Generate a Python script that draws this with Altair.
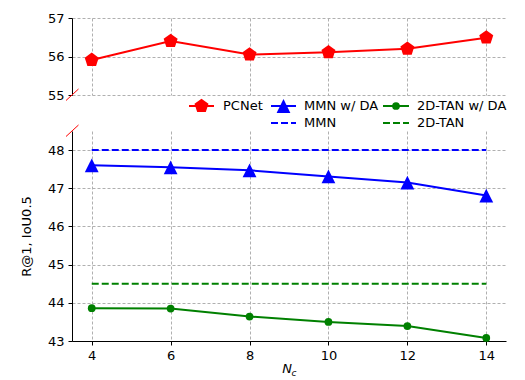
import altair as alt
import pandas as pd

# ---- data ----
nc = [4, 6, 8, 10, 12, 14]
pcnet = [55.91, 56.40, 56.05, 56.11, 56.20, 56.49]
mmn_da = [47.60, 47.55, 47.47, 47.31, 47.15, 46.81]
tan_da = [43.86, 43.85, 43.64, 43.50, 43.39, 43.08]
mmn_base = 48.0
tan_base = 44.5
top_range = [55, 57]
bottom_ticks = [43, 44, 45, 46, 47, 48]
x_ticks = [4, 6, 8, 10, 12, 14]
legend_labels = ["PCNet", "MMN w/ DA", "MMN", "2D-TAN w/ DA", "2D-TAN"]
y_title = "R@1, IoU0.5"

# ---- styling ----
W = 434
H_TOP = 77
H_BOT = 210
FONT = "DejaVu Sans"
RED, BLUE, GREEN = "#ff0000", "#0000ff", "#008000"
PENTAGON = "M0,-1L0.951,-0.309L0.588,0.809L-0.588,0.809L-0.951,-0.309Z"
TRIANGLE = "M0,-1L1,1L-1,1Z"
DASH = [7, 3]

xscale = alt.Scale(domain=[3.5, 14.5], nice=False, zero=False)
grid = dict(grid=True, gridColor="#b0b0b0", gridDash=[3, 2], gridWidth=1)
ax_common = dict(domainColor="black", tickColor="black", tickSize=4,
                 labelFontSize=13, labelFont=FONT, labelColor="black",
                 labelPadding=4, domainWidth=1, tickWidth=1,
                 labelOverlap=False, labelFlush=False)

# ---- top panel ----
df_top = pd.DataFrame({"nc": nc, "v": pcnet})
tx = alt.X("nc:Q", scale=xscale,
           axis=alt.Axis(values=x_ticks, tickCount=20, labels=False, ticks=False,
                         domain=False, title=None, **grid))
ty = alt.Y("v:Q", scale=alt.Scale(domain=top_range, nice=False, zero=False),
           axis=alt.Axis(tickCount=2, title=None, format="d",
                         **grid, **ax_common))
top_line = alt.Chart(df_top).mark_line(color=RED, strokeWidth=2).encode(x=tx, y=ty)
top_pts = alt.Chart(df_top).mark_point(shape=PENTAGON, filled=True, size=216,
                                       color=RED, opacity=1).encode(x=tx, y=ty)
brk1 = alt.Chart(pd.DataFrame({"a": [0]})).mark_rule(color=RED, strokeWidth=1).encode(
    x=alt.value(-6), x2=alt.value(6.5), y=alt.value(H_TOP + 5.5), y2=alt.value(H_TOP - 6))
top = alt.layer(top_line, top_pts, brk1).properties(width=W, height=H_TOP)

# ---- bottom panel ----
df_mmn = pd.DataFrame({"nc": nc, "v": mmn_da})
df_tan = pd.DataFrame({"nc": nc, "v": tan_da})
df_ref = pd.DataFrame({"x0": [nc[0]], "x1": [nc[-1]]})

bx = alt.X("nc:Q", scale=xscale,
           axis=alt.Axis(values=x_ticks, tickCount=20, title=None, format="d",
                         **grid, **ax_common))
by = alt.Y("v:Q", scale=alt.Scale(domain=[43, 48.5], nice=False, zero=False),
           axis=alt.Axis(values=bottom_ticks, tickCount=20, title=y_title, format="d",
                         titleFont=FONT, titleFontSize=13, titleFontWeight="normal",
                         titleColor="black", titlePadding=14, **grid, **ax_common))

mmn_ref = alt.Chart(df_ref).mark_rule(color=BLUE, strokeWidth=2, strokeDash=DASH).encode(
    x=alt.X("x0:Q", scale=xscale), x2="x1:Q", y=alt.datum(mmn_base))
tan_ref = alt.Chart(df_ref).mark_rule(color=GREEN, strokeWidth=2, strokeDash=DASH).encode(
    x=alt.X("x0:Q", scale=xscale), x2="x1:Q", y=alt.datum(tan_base))
mmn_line = alt.Chart(df_mmn).mark_line(color=BLUE, strokeWidth=2).encode(x=bx, y=by)
mmn_pts = alt.Chart(df_mmn).mark_point(shape=TRIANGLE, filled=True, size=190,
                                       color=BLUE, opacity=1).encode(x=bx, y=by)
tan_line = alt.Chart(df_tan).mark_line(color=GREEN, strokeWidth=2).encode(x=bx, y=by)
tan_pts = alt.Chart(df_tan).mark_point(shape="circle", filled=True, size=60,
                                       color=GREEN, opacity=1).encode(x=bx, y=by)

brk2 = alt.Chart(pd.DataFrame({"a": [0]})).mark_rule(color=RED, strokeWidth=1).encode(
    x=alt.value(-6), x2=alt.value(6.5), y=alt.value(5.5), y2=alt.value(-6))

# legend (manual, 3 columns)
leg_spec = [
    # label, line x0, x1, marker x, text x, y, color, marker, size, dashed
    (legend_labels[0], 117, 142, 129.5, 151, -25, RED, PENTAGON, 216, False),
    (legend_labels[1], 199, 224, 211.5, 232, -25, BLUE, TRIANGLE, 190, False),
    (legend_labels[2], 199, 224, None, 232, -8, BLUE, None, 0, True),
    (legend_labels[3], 311, 337, 324, 345, -25, GREEN, "circle", 60, False),
    (legend_labels[4], 311, 337, None, 345, -8, GREEN, None, 0, True),
]
leg_layers = []
for lab, x0, x1, mx, txp, yy, col, shp, sz, dashed in leg_spec:
    d = pd.DataFrame({"label": [lab]})
    rule_kw = dict(color=col, strokeWidth=2)
    if dashed:
        rule_kw["strokeDash"] = DASH
    leg_layers.append(alt.Chart(d).mark_rule(**rule_kw).encode(
        x=alt.value(x0), x2=alt.value(x1), y=alt.value(yy)))
    if shp is not None:
        leg_layers.append(alt.Chart(d).mark_point(shape=shp, filled=True, size=sz,
                                                  color=col, opacity=1).encode(
            x=alt.value(mx), y=alt.value(yy)))
    leg_layers.append(alt.Chart(d).mark_text(align="left", baseline="middle",
                                             font=FONT, fontSize=13, color="black").encode(
        x=alt.value(txp), y=alt.value(yy), text="label:N"))

# x title N_c
xt_n = alt.Chart(pd.DataFrame({"t": ["N"]})).mark_text(
    font=FONT, fontSize=13, fontStyle="italic", color="black",
    align="center", baseline="middle").encode(
    x=alt.value(W / 2 - 2), y=alt.value(H_BOT + 28), text="t:N")
xt_c = alt.Chart(pd.DataFrame({"t": ["c"]})).mark_text(
    font=FONT, fontSize=9, fontStyle="italic", color="black",
    align="center", baseline="middle").encode(
    x=alt.value(W / 2 + 5), y=alt.value(H_BOT + 32), text="t:N")

bottom = alt.layer(mmn_ref, tan_ref, mmn_line, mmn_pts, tan_line, tan_pts, brk2,
                   *leg_layers, xt_n, xt_c).properties(width=W, height=H_BOT)

chart = alt.vconcat(top, bottom, spacing=36, bounds="flush").properties(
    padding={"left": 12, "top": 4, "right": 5, "bottom": 5}
).configure_view(stroke=None)

chart.save("out.html", embed_options={"renderer": "svg", "actions": False})
